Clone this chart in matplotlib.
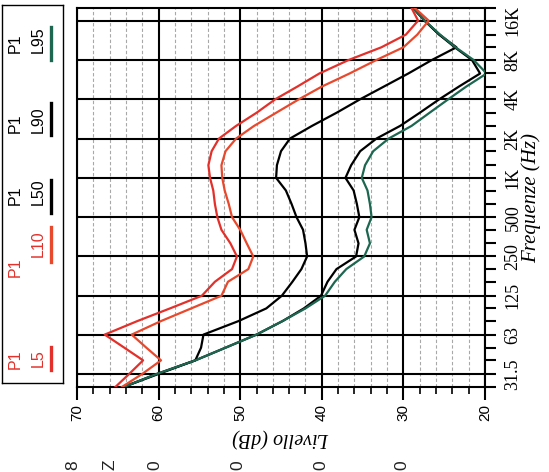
import matplotlib
matplotlib.use('Agg')
import matplotlib.pyplot as plt
from matplotlib.ticker import FixedLocator, NullFormatter, MultipleLocator

plt.rcParams['font.family'] = ['Liberation Sans', 'DejaVu Sans']

# third-octave bands, 25 Hz .. 20 kHz
freq = [25, 31.5, 40, 50, 63, 80, 100, 125, 160, 200, 250, 315, 400, 500, 630, 800,
        1000, 1250, 1600, 2000, 2500, 3150, 4000, 5000, 6300, 8000, 10000, 12500, 16000, 20000]

l5 = [65.3, 63.6, 61.9, 64.2, 66.6, 62.6, 58.6, 54.7, 53.1, 51.0, 50.4, 51.2, 52.3, 52.8, 53.1,
      53.3, 53.7, 53.9, 53.5, 52.6, 50.5, 48.0, 45.7, 43.0, 40.3, 36.7, 32.7, 29.7, 28.2, 29.0]
l10 = [64.5, 62.0, 59.7, 61.5, 63.3, 59.7, 56.0, 52.3, 51.5, 49.0, 48.4, 49.2, 50.0, 51.0, 51.4,
       51.9, 52.2, 52.3, 51.8, 50.5, 48.3, 45.6, 42.8, 40.0, 36.6, 33.3, 30.0, 28.3, 26.9, 28.6]
l50 = [64.3, 60.0, 55.5, 54.8, 54.5, 50.2, 46.8, 44.9, 43.6, 42.5, 41.8, 42.0, 42.3, 43.1, 43.7,
       44.4, 45.6, 45.5, 45.0, 43.9, 41.2, 38.2, 35.3, 32.4, 29.4, 26.5, 23.5, 25.6, 27.4, 28.8]
l90 = [64.3, 60.2, 55.5, 51.8, 48.0, 44.8, 42.2, 40.1, 39.3, 38.2, 35.8, 35.5, 36.0, 35.4, 35.7,
       36.1, 37.1, 36.4, 35.3, 33.3, 30.4, 28.0, 25.6, 23.2, 20.6, 21.6, 23.7, 25.6, 27.4, 28.8]
l95 = [64.3, 60.2, 55.5, 51.8, 48.0, 44.8, 42.0, 39.6, 38.4, 37.0, 34.8, 34.1, 34.5, 33.9, 34.1,
       34.4, 35.1, 34.7, 33.7, 31.8, 29.0, 26.8, 24.5, 22.3, 19.8, 21.4, 23.6, 25.5, 27.4, 28.8]

oct_freq = [31.5, 63, 125, 250, 500, 1000, 2000, 4000, 8000, 16000]
oct_labels = ['31.5', '63', '125', '250', '500', '1K', '2K', '4K', '8K', '16K']
level_ticks = [70, 60, 50, 40, 30, 20]

series = [('L5', l5, '#e3302a'), ('L10', l10, '#e8482c'), ('L50', l50, 'black'),
          ('L90', l90, 'black'), ('L95', l95, '#1d6650')]

fig = plt.figure(figsize=(5.49, 4.72), dpi=100)
ax = fig.add_axes([77/549, 1-387/472, 408/549, 379/472])

# chart is printed rotated: level runs along x (reversed), frequency along y
for name, vals, col in [series[2], series[3], series[4], series[1], series[0]]:
    ax.plot(vals, freq, color=col, lw=1.6, zorder=3)

ax.set_yscale('log')
ax.set_ylim(25, 20000)
ax.set_xlim(70, 20)

ax.xaxis.set_major_locator(FixedLocator(level_ticks))
ax.xaxis.set_minor_locator(MultipleLocator(2))
ax.set_xticklabels([str(v) for v in level_ticks], rotation=90, fontsize=11)

ax.yaxis.set_major_locator(FixedLocator(oct_freq))
ax.yaxis.set_minor_locator(FixedLocator([f for f in freq if f not in oct_freq]))
ax.yaxis.set_minor_formatter(NullFormatter())
ax.set_yticklabels(oct_labels, rotation=90, fontsize=13, family='Liberation Serif', va='center')
ax.yaxis.tick_right()

ax.tick_params(axis='x', which='major', length=9, width=1.5, pad=3)
ax.tick_params(axis='x', which='minor', length=5, width=1.2)
ax.tick_params(axis='y', which='both', length=8, width=1.5, pad=6)

ax.grid(which='major', color='black', lw=1.5)
ax.xaxis.grid(which='minor', color='#a8a8a8', lw=0.8, ls=(0, (3, 2)))
ax.set_axisbelow(True)
for sp in ax.spines.values():
    sp.set_linewidth(1.5)

ax.set_xlabel('Livello (dB)', rotation=180, family='Liberation Serif', style='italic',
              fontsize=14.5, labelpad=5)
ax.yaxis.set_label_position('right')
ax.set_ylabel('Frequenze (Hz)', rotation=90, family='Liberation Serif', style='italic',
              fontsize=15, labelpad=0)

# legend box, also rotated
lg = fig.add_axes([2/549, 1-383/472, 61/549, 378/472])
lg.set_xticks([])
lg.set_yticks([])
lg.set_xlim(2, 63)
lg.set_ylim(383, 5)
for sp in lg.spines.values():
    sp.set_linewidth(1.0)

entries = [('L5', 369, 367, (347, 370)), ('L10', 277, 257, (227, 262)),
           ('L50', 205, 205, (180, 213)), ('L90', 133, 133, (103, 135)),
           ('L95', 53, 53, (27, 60))]
cols = {n: c for n, v, c in series}
for name, yp, yl, (y0, y1) in entries:
    tc = '#e3302a' if name in ('L5', 'L10') else 'black'
    lg.text(15, yp, 'P1', rotation=90, ha='center', va='bottom', color=tc, fontsize=11.5)
    lg.text(38, yl, name, rotation=90, ha='center', va='bottom', color=tc, fontsize=11.5)
    lg.plot([51.5, 51.5], [y0, y1], color=cols[name], lw=2.4)

# text from the page below the chart (figure pixels from bottom-left)
bottom_marks = ['8', 'Z', '0', '0', '0', '0']
bottom_x = [73, 110, 155, 238, 321, 402]
for x, s in zip(bottom_x, bottom_marks):
    ax.annotate(s, xy=(x, 2), xycoords='figure pixels', rotation=90, ha='center',
                va='bottom', fontsize=12.5, color='#222222', annotation_clip=False)

fig.savefig('out.png', dpi=100, facecolor='white')
